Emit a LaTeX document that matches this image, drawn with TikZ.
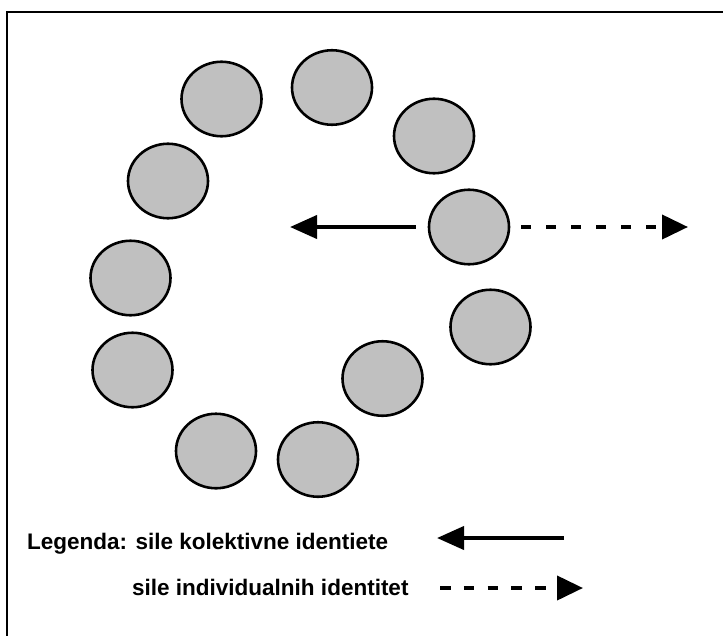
\documentclass[tikz,border=0pt]{standalone}
\usepackage{fontspec}
\setmainfont{Liberation Sans}
\usetikzlibrary{arrows.meta,shapes.geometric}
\definecolor{memgray}{RGB}{192,192,192}
\begin{document}
\begin{tikzpicture}[x=1pt,y=-1pt,
  member/.style={ellipse, draw=black, line width=2.6pt, fill=memgray,
    inner sep=0pt, minimum width=80pt, minimum height=74.5pt},
  pull/.style={line width=4pt, -{Triangle[length=27pt,width=23pt]}},
  push/.style={line width=4pt, dash pattern=on 10pt off 15pt,
    -{Triangle[length=26pt,width=24pt]}},
  legpush/.style={push, dash pattern=on 10.5pt off 13.3pt},
  legtext/.style={anchor=base west, inner sep=0pt,
    font=\bfseries\fontsize{22.5}{27}\selectfont}]
\useasboundingbox (0,0) rectangle (723,635);
\clip (0,0) rectangle (723,635);

% outer frame (runs off the right and bottom edges)
\draw[line width=2.4pt] (7,660) -- (7,12) -- (740,12);

% the members of the group, arranged in an open ring
\node[member] (c1)  at (168,181)   {};
\node[member] (c2)  at (130.5,278) {};
\node[member] (c3)  at (132.5,370) {};
\node[member] (c4)  at (216,451)   {};
\node[member] (c5)  at (318,459.5) {};
\node[member] (c6)  at (382.5,378.5) {};
\node[member] (c7)  at (490.5,327) {};
\node[member] (r)   at (469,227)   {};
\node[member] (c8)  at (434,136)   {};
\node[member] (c9)  at (332,87.5)  {};
\node[member] (c10) at (221.5,99)  {};

% forces acting on the outlying member
\coordinate (inward)  at (290,227);
\coordinate (outward) at (688,227);
\draw[pull] ([xshift=-12pt]r.west) -- (inward);
\draw[push] ([xshift=11pt]r.east) -- (outward);

% legend
\node[legtext] (leg1) at (27,549) {Legenda: sile kolektivne identiete};
\node[legtext] (leg2) at (132,595) {sile individualnih identitet};
\coordinate (l1s) at (564,538);
\coordinate (l1e) at (437,538);
\coordinate (l2s) at (440,588);
\coordinate (l2e) at (583,588);
\draw[pull] (l1s) -- (l1e);
\draw[legpush] (l2s) -- (l2e);
\end{tikzpicture}
\end{document}
